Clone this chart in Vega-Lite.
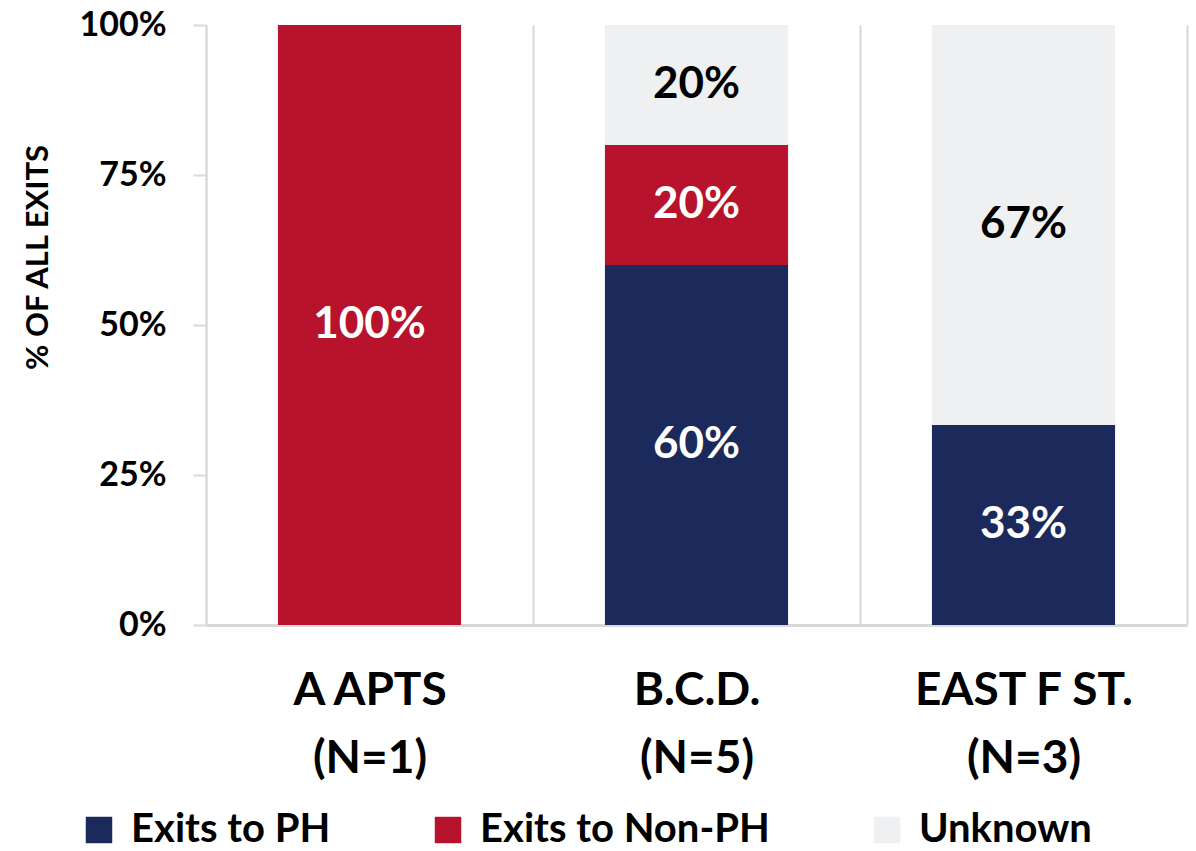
{
  "$schema": "https://vega.github.io/schema/vega-lite/v6.json",
  "width": 981,
  "height": 600,
  "autosize": {"type": "none"},
  "padding": {"left": 206, "top": 25, "right": 9, "bottom": 226},
  "background": "white",
  "config": {"view": {"stroke": null}, "font": "Lato"},
  "data": {"values": [
    {"site": "A APTS\n(N=1)", "cat": "Exits to Non-PH", "k": 2, "pct": 1},
    {"site": "B.C.D.\n(N=5)", "cat": "Exits to PH", "k": 1, "pct": 0.6},
    {"site": "B.C.D.\n(N=5)", "cat": "Exits to Non-PH", "k": 2, "pct": 0.2},
    {"site": "B.C.D.\n(N=5)", "cat": "Unknown", "k": 3, "pct": 0.2},
    {"site": "EAST F ST.\n(N=3)", "cat": "Exits to PH", "k": 1, "pct": 0.3333},
    {"site": "EAST F ST.\n(N=3)", "cat": "Unknown", "k": 3, "pct": 0.6667}
  ]},
  "transform": [
    {"stack": "pct", "groupby": ["site"], "sort": [{"field": "k"}], "as": ["y0", "y1"]}
  ],
  "layer": [
    {
      "mark": {"type": "bar", "width": {"band": 0.56}},
      "encoding": {
        "x": {
          "field": "site", "type": "nominal",
          "sort": ["A APTS\n(N=1)", "B.C.D.\n(N=5)", "EAST F ST.\n(N=3)"],
          "scale": {"paddingInner": 0, "paddingOuter": 0},
          "axis": {
            "title": null, "tickBand": "extent", "grid": true, "gridColor": "#D9D9D9", "gridWidth": 2,
            "ticks": false, "domainColor": "#D9D9D9", "domainWidth": 3, "labelAngle": 0,
            "labelExpr": "isValid(datum.value) ? split(datum.value, '\\n') : ''",
            "labelFont": "Lato", "labelFontSize": 46, "labelFontWeight": "bold", "labelColor": "#000000",
            "labelPadding": 43, "labelLineHeight": 68, "labelLimit": 0, "labelOverlap": false
          }
        },
        "y": {
          "field": "y0", "type": "quantitative", "scale": {"domain": [0, 1]},
          "axis": {
            "title": "% OF ALL EXITS", "format": ".0%", "values": [0, 0.25, 0.5, 0.75, 1], "grid": false,
            "domainColor": "#D9D9D9", "domainWidth": 2, "tickColor": "#D9D9D9", "tickSize": 13, "tickWidth": 2,
            "labelFont": "Lato", "labelFontSize": 34, "labelFontWeight": "bold", "labelColor": "#000000", "labelPadding": 27,
            "titleFont": "Lato", "titleFontSize": 31, "titleFontWeight": "bold", "titleColor": "#000000",
            "titleX": -168, "titleY": 232, "titleBaseline": "middle", "titleAlign": "center", "titleAngle": 270
          }
        },
        "y2": {"field": "y1"},
        "color": {
          "field": "cat", "type": "nominal",
          "scale": {"domain": ["Exits to PH", "Exits to Non-PH", "Unknown"], "range": ["#1C2A5B", "#B8132C", "#EFF0F2"]},
          "legend": {
            "orient": "none", "legendX": -127, "legendY": 785, "direction": "horizontal", "title": null,
            "symbolType": "square", "symbolSize": 700, "symbolStrokeWidth": 0, "symbolOpacity": 1,
            "labelFont": "Lato", "labelFontSize": 40, "labelFontWeight": "bold", "labelColor": "#000000",
            "columnPadding": 97, "labelOffset": 12, "labelLimit": 0
          }
        }
      }
    },
    {
      "transform": [
        {"fold": ["y0", "y1"]},
        {"aggregate": [{"op": "mean", "field": "value", "as": "mid"}], "groupby": ["site", "cat", "pct"]}
      ],
      "mark": {"type": "text", "fontSize": 44, "fontWeight": "bold", "font": "Lato", "baseline": "middle"},
      "encoding": {
        "x": {"field": "site", "type": "nominal", "sort": ["A APTS\n(N=1)", "B.C.D.\n(N=5)", "EAST F ST.\n(N=3)"]},
        "y": {"field": "mid", "type": "quantitative"},
        "text": {"field": "pct", "type": "quantitative", "format": ".0%"},
        "color": {"condition": {"test": "datum.cat === 'Unknown'", "value": "#000000"}, "value": "#FFFFFF"}
      }
    }
  ]
}
